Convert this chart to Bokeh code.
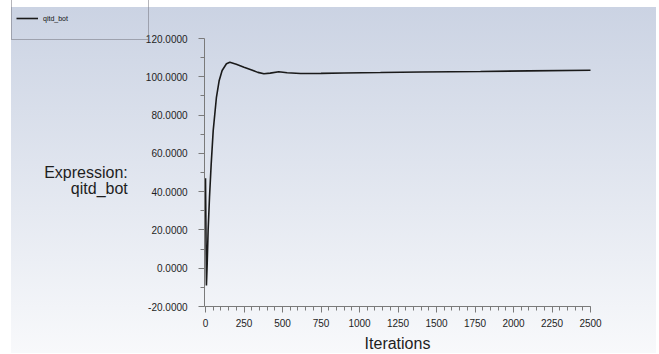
from bokeh.plotting import figure
from bokeh.models import (FixedTicker, NumeralTickFormatter,
                          Legend, LegendItem, Range1d)
from bokeh.embed import file_html
from bokeh.resources import INLINE

# ---- data ----
iterations = [0, 6, 11, 17, 26, 37, 50, 71, 89, 108, 136, 158, 200, 250, 300,
              340, 379, 420, 476, 530, 617, 750, 900, 1136, 1400, 1786, 2100, 2500]
qitd_bot = [47.0, -9.0, 2.3, 19.7, 37.1, 54.5, 71.9, 89.3, 98.1, 103.3, 106.8,
            107.6, 106.5, 105.0, 103.6, 102.3, 101.6, 101.9, 102.6, 102.1, 101.7,
            101.8, 102.0, 102.2, 102.5, 102.8, 103.1, 103.4]
x_ticks = [0, 250, 500, 750, 1000, 1250, 1500, 1750, 2000, 2250, 2500]
x_minor = list(range(0, 2501, 50))
y_ticks = [-20, 0, 20, 40, 60, 80, 100, 120]
y_minor = [-10, 10, 30, 50, 70, 90, 110]
series_name = "qitd_bot"
x_title = "Iterations"
y_title = "\nExpression:\nqitd_bot"

W, H = 659, 354
FONT = "Liberation Sans"

# layout: where the axes sit on the canvas (pixels)
AX_L, AX_R, AX_T, AX_B = 205, 590, 38, 306
X0, X1, Y0, Y1 = 0, 2500, -20, 120
AXIS_X = -6  # y-axis sits just left of iteration 0
xs = (X1 - X0) / (AX_R - AX_L)
ys = (Y1 - Y0) / (AX_B - AX_T)
x_range = Range1d(X0 - AX_L * xs, X1 + (W - AX_R) * xs)
y_range = Range1d(Y0 - (H - AX_B) * ys, Y1 + AX_T * ys)

p = figure(width=W, height=H, output_backend="svg", toolbar_location=None,
           x_range=x_range, y_range=y_range, min_border=0)
p.grid.visible = False
p.outline_line_color = None
p.background_fill_alpha = 0.0
p.border_fill_alpha = 0.0
# vertical gradient behind a transparent canvas (style only)
p.styles = {"background": "linear-gradient(to bottom, #cbd3e3 0%, #dfe4ee 45%, #f8f9fb 100%) "
                          "11px 7px / 645px 346px no-repeat, #ffffff"}

r = p.line(iterations, qitd_bot, line_color="#1a1a1a", line_width=1.6)

xa, ya = p.xaxis[0], p.yaxis[0]
xa.fixed_location = Y0
ya.fixed_location = AXIS_X
xa.bounds = (AXIS_X, X1)
ya.bounds = (Y0, Y1)

for ax in (xa, ya):
    ax.axis_line_color = "#7a7a7a"
    ax.major_tick_line_color = "#7a7a7a"
    ax.minor_tick_line_color = "#7a7a7a"
    ax.major_tick_out = 6
    ax.major_tick_in = 0
    ax.minor_tick_out = 4
    ax.minor_tick_in = 0
    ax.major_label_text_font = FONT
    ax.major_label_text_font_size = "10px"
    ax.major_label_text_color = "#1e1e1e"
    ax.axis_label_text_font = FONT
    ax.axis_label_text_font_size = "16px"
    ax.axis_label_text_font_style = "normal"
    ax.axis_label_text_color = "#1e1e1e"

xa.ticker = FixedTicker(ticks=x_ticks, minor_ticks=x_minor)
ya.ticker = FixedTicker(ticks=y_ticks, minor_ticks=y_minor)
ya.formatter = NumeralTickFormatter(format="0.0000")
ya.major_label_standoff = 11
xa.major_label_standoff = 6
xa.axis_label = x_title
xa.axis_label_standoff = 5
ya.axis_label = y_title
ya.axis_label_orientation = "horizontal"
ya.axis_label_standoff = 15
ya.axis_label_text_line_height = 0.92

legend = Legend(items=[LegendItem(label=series_name, renderers=[r])],
                location=(11, H - 40), orientation="vertical",
                padding=4, margin=0, spacing=0,
                glyph_width=22, glyph_height=34, label_height=34,
                label_width=101, label_standoff=5,
                label_text_font=FONT, label_text_font_size="7px",
                label_text_color="#111111",
                border_line_color="#6e6e78", border_line_width=1,
                background_fill_alpha=0.0)
p.add_layout(legend, "center")

open("out.html", "w").write(file_html(p, INLINE))
